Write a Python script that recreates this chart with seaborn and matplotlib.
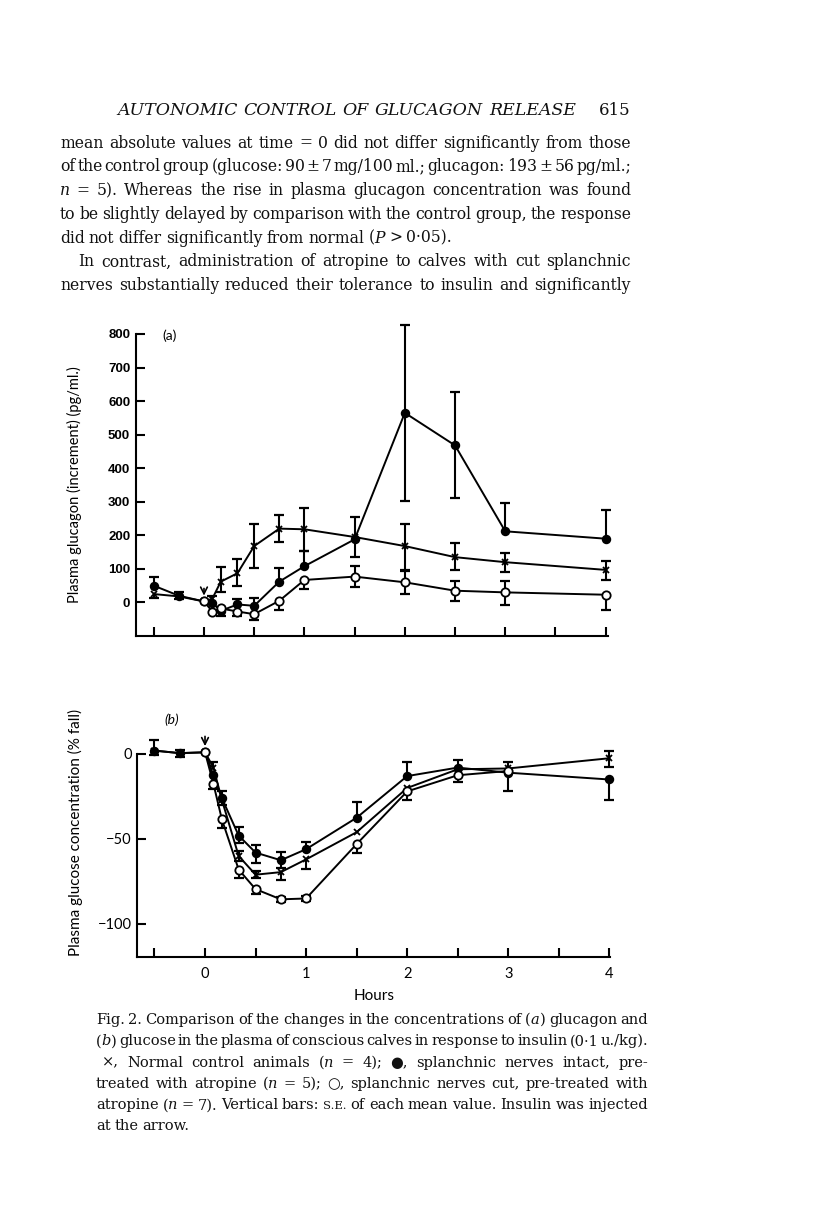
import matplotlib
matplotlib.use("Agg")
import matplotlib.pyplot as plt
import numpy as np
import seaborn as sns

# ── data ──────────────────────────────────────────────────────────────────────
HOURS = [-0.5, -0.25, 0, 0.083, 0.167, 0.333, 0.5, 0.75, 1, 1.5, 2, 2.5, 3, 4]
HOURS_OPEN_A = [0, 0.083, 0.167, 0.333, 0.5, 0.75, 1, 1.5, 2, 2.5, 3, 4]
HOURS_OPEN_B = [0, 0.083, 0.167, 0.333, 0.5, 0.75, 1, 1.5, 2, 2.5, 3]

# (a) glucagon increment, pg/ml
GLUCAGON_CONTROL = [25, 18, 3, 11, 62, 87, 168, 220, 218, 195, 168, 135, 120, 97]
GLUCAGON_CONTROL_LO = [12, 0, 0, 0, 32, 37, 66, 40, 66, 0, 71, 37, 28, 29]
GLUCAGON_CONTROL_HI = [0, 0, 0, 9, 45, 41, 67, 42, 64, 0, 65, 42, 27, 26]

GLUCAGON_INTACT = [50, 20, 3, -1, -25, -6, -10, 62, 108, 188, 565, 468, 212, 190]
GLUCAGON_INTACT_LO = [0, 10, 0, 0, 15, 0, 0, 0, 0, 53, 263, 158, 0, 0]
GLUCAGON_INTACT_HI = [25, 10, 0, 0, 12, 16, 23, 40, 44, 67, 263, 160, 83, 85]

GLUCAGON_CUT = [3, -27, -18, -27, -35, 5, 67, 77, 60, 35, 30, 23]
GLUCAGON_CUT_LO = [0, 0, 8, 12, 17, 28, 27, 32, 35, 30, 37, 47]
GLUCAGON_CUT_HI = [0, 0, 0, 0, 0, 0, 0, 31, 35, 28, 35, 0]

# (b) glucose, % fall
GLUCOSE_CONTROL = [2, 0.5, 1, -8, -27, -60, -71, -69.5, -62, -46, -20, -9, -8.5, -2.5]
GLUCOSE_CONTROL_LO = [0, 0, 0, 0, 0, 3, 2, 4.5, 5.5, 0, 0, 0, 0, 5]
GLUCOSE_CONTROL_HI = [0, 0, 0, 3, 0, 3, 2, 0, 0, 0, 0, 0, 4, 4.5]

GLUCOSE_INTACT = [2, 0.5, 1, -12.5, -26, -48, -58, -62.5, -56, -37.5, -13, -8, -11, -15]
GLUCOSE_INTACT_LO = [2.5, 2, 0, 0, 4, 4.5, 6, 4.5, 0, 0, 0, 0, 10.5, 12]
GLUCOSE_INTACT_HI = [6.5, 2, 0, 0, 4, 5, 4.5, 5, 4, 9.5, 8, 4.5, 0, 0]

GLUCOSE_CUT = [1, -17.5, -38.5, -68, -79.5, -85.5, -85, -53, -22, -12.5, -10]
GLUCOSE_CUT_LO = [0, 3, 5, 5, 3, 1.5, 1.5, 5.5, 5, 4, 0]
GLUCOSE_CUT_HI = [0, 0, 0, 0, 0, 1.5, 1.5, 0, 0, 0, 0]

X_TICKS = [-0.5, 0, 0.5, 1, 1.5, 2, 2.5, 3, 3.5, 4]
X_TICK_LABELS_B = ["", "0", "", "1", "", "2", "", "3", "", "4"]
Y_TICKS_A = [0, 100, 200, 300, 400, 500, 600, 700, 800]
Y_TICKS_B = [0, -50, -100]

HEADER = "AUTONOMIC CONTROL OF GLUCAGON RELEASE"
PAGE_NO = "615"
BODY = [
    "mean absolute values at time = 0 did not differ significantly from those",
    "of the control group (glucose: 90 ± 7 mg/100 ml.; glucagon: 193 ± 56 pg/ml.;",
    "*n = 5). Whereas the rise in plasma glucagon concentration was found",
    "to be slightly delayed by comparison with the control group, the response",
    "did not differ significantly from normal (~*P > 0·05).",
    "In contrast, administration of atropine to calves with cut splanchnic",
    "nerves substantially reduced their tolerance to insulin and significantly",
]
CAPTION = [
    "Fig. 2. Comparison of the changes in the concentrations of (~*a~) glucagon and",
    "(~*b~) glucose in the plasma of conscious calves in response to insulin (0·1 u./kg).",
    "×, Normal control animals (~*n = 4); ●, splanchnic nerves intact, pre-",
    "treated with atropine (~*n = 5); ○, splanchnic nerves cut, pre-treated with",
    "atropine (~*n = 7). Vertical bars: ^S.E. of each mean value. Insulin was injected",
    "at the arrow.",
]

W, H = 816, 1211
SERIF = ["DejaVu Serif", "DejaVu Sans"]
SANS = ["Lato", "DejaVu Sans"]

sns.set_theme(style="ticks")
plt.rcParams.update({
    "axes.linewidth": 1.5,
    "axes.spines.top": False,
    "axes.spines.right": False,
    "axes.edgecolor": "black",
    "figure.facecolor": "white",
    "axes.facecolor": "white",
})
plt.rcParams["font.family"] = SANS

fig = plt.figure(figsize=(W / 100, H / 100), dpi=100)
renderer = fig.canvas.get_renderer()


def make_words(line, baseline, size, italic=False):
    placed = []
    for word in line.split(" "):
        pieces = []
        for p in word.split("~"):
            style, fs = ("italic" if italic else "normal"), size
            if p.startswith("*"):
                style, p = "italic", p[1:]
            if p.startswith("^"):
                fs, p = size * 0.78, p[1:]
            t = fig.text(0, 1 - baseline / H, p, fontsize=fs, family=SERIF,
                         style=style, va="baseline", ha="left", color="#111")
            pieces.append((t, t.get_window_extent(renderer).width))
        placed.append(pieces)
    return placed


def fit_size(lines, x0s, x1, size, min_gap=0.5):
    """Largest size (<= size) at which every line fits with a minimum word gap."""
    best = size
    for line, x0 in zip(lines, x0s):
        placed = make_words(line, 0, size)
        total = sum(w for pieces in placed for _, w in pieces)
        space = size * 100 / 72 * 0.25
        need = total + (len(placed) - 1) * min_gap * space
        best = min(best, size * (x1 - x0) / need)
        for pieces in placed:
            for t, _ in pieces:
                t.remove()
    return best


def set_line(line, x0, x1, baseline, size, justify=True, italic=False):
    """Place a line of words, spreading them between x0 and x1 (pixels)."""
    placed = make_words(line, baseline, size, italic)
    total = sum(w for pieces in placed for _, w in pieces)
    space = size * 100 / 72 * 0.27
    n = len(placed) - 1
    gap = (x1 - x0 - total) / n if justify and n > 0 else space
    x = x0
    for pieces in placed:
        for t, w in pieces:
            t.set_x(x / W)
            x += w
        x += gap


# ── page text ─────────────────────────────────────────────────────────────────
set_line(HEADER, 117, 576, 115, 12.5, italic=True)
fig.text(631 / W, 1 - 115 / H, PAGE_NO, fontsize=12, family=SERIF,
         ha="right", va="baseline", color="#111")

body_x0 = [78 if i == 5 else 60 for i in range(len(BODY))]
body_size = fit_size([l for i, l in enumerate(BODY) if i != 4],
                     [x for i, x in enumerate(body_x0) if i != 4], 631, 13)
for i, line in enumerate(BODY):
    set_line(line, body_x0[i], 631, 147.5 + i * 23.8, body_size, justify=(i != 4))

cap_x0 = [102 if i == 2 else 96 for i in range(len(CAPTION))]
cap_size = fit_size(CAPTION[:5], cap_x0[:5], 648, 11.5)
for i, line in enumerate(CAPTION):
    set_line(line, cap_x0[i], 648, 1024 + i * 21.3, cap_size, justify=(i != 5))


# ── plotting helpers ──────────────────────────────────────────────────────────
def draw_series(ax, t, y, lo, hi, marker, face, size):
    t, y, lo, hi = map(np.asarray, (t, y, lo, hi))
    has = (lo > 0) | (hi > 0)
    ax.vlines(t[has], (y - lo)[has], (y + hi)[has], color="black", lw=1.5,
              zorder=2, clip_on=False)
    ax.plot(t[hi > 0], (y + hi)[hi > 0], ls="none", marker="_", ms=7.5, mew=1.6,
            color="black", zorder=2, clip_on=False)
    ax.plot(t[lo > 0], (y - lo)[lo > 0], ls="none", marker="_", ms=7.5, mew=1.6,
            color="black", zorder=2, clip_on=False)
    sns.lineplot(x=t, y=y, ax=ax, sort=False, estimator=None, color="black",
                 linewidth=1.4, marker=marker, markersize=size,
                 markerfacecolor=face, markeredgecolor="black",
                 markeredgewidth=1.3, zorder=3, clip_on=False)


def style_axes(ax):
    ax.tick_params(direction="in", length=6.5, width=1.5, pad=4, colors="black")
    ax.set_xticks(X_TICKS)
    for s in ("left", "bottom"):
        ax.spines[s].set_color("black")


# ── (a) glucagon ──────────────────────────────────────────────────────────────
ax_a = fig.add_axes([135.7 / W, 1 - 636 / H, 472 / W, 302 / H])
draw_series(ax_a, HOURS, GLUCAGON_CONTROL, GLUCAGON_CONTROL_LO, GLUCAGON_CONTROL_HI,
            "x", "black", 5)
draw_series(ax_a, HOURS, GLUCAGON_INTACT, GLUCAGON_INTACT_LO, GLUCAGON_INTACT_HI,
            "o", "black", 5.5)
draw_series(ax_a, HOURS_OPEN_A, GLUCAGON_CUT, GLUCAGON_CUT_LO, GLUCAGON_CUT_HI,
            "o", "white", 6)
ax_a.set_xlim(-0.68, 4.02)
ax_a.set_ylim(-100, 800)
style_axes(ax_a)
ax_a.set_yticks(Y_TICKS_A)
ax_a.set_yticklabels([str(v) for v in Y_TICKS_A], fontsize=9.5,
                     family=["Liberation Sans", "DejaVu Sans"], fontweight="bold")
ax_a.tick_params(labelbottom=False)
ax_a.set_ylabel("Plasma glucagon (increment) (pg/ml.)", fontsize=10.5, color="black")
ax_a.yaxis.set_label_coords(-54 / 472, 0.5)
ax_a.annotate("", xy=(0, 12), xytext=(0, 50),
              arrowprops=dict(arrowstyle="->", lw=1.2, color="black",
                              mutation_scale=12))
ax_a.text(-0.34, 794, "(a)", fontsize=10, ha="center", va="center", color="black")
ax_a.set_xlabel("")

# ── (b) glucose ───────────────────────────────────────────────────────────────
ax_b = fig.add_axes([137.3 / W, 1 - 957.3 / H, 473 / W, 230.5 / H])
draw_series(ax_b, HOURS, GLUCOSE_CONTROL, GLUCOSE_CONTROL_LO, GLUCOSE_CONTROL_HI,
            "x", "black", 5)
draw_series(ax_b, HOURS, GLUCOSE_INTACT, GLUCOSE_INTACT_LO, GLUCOSE_INTACT_HI,
            "o", "black", 5.5)
draw_series(ax_b, HOURS_OPEN_B, GLUCOSE_CUT, GLUCOSE_CUT_LO, GLUCOSE_CUT_HI,
            "o", "white", 6)
ax_b.set_xlim(-0.67, 4.01)
ax_b.set_ylim(-119.6, 16)
ax_b.spines["left"].set_bounds(-119.6, 0)
style_axes(ax_b)
ax_b.set_yticks(Y_TICKS_B)
ax_b.set_yticklabels(["0", "\u221250", "\u2212100"], fontsize=10.5)
ax_b.set_xticklabels(X_TICK_LABELS_B, fontsize=10.5)
ax_b.tick_params(axis="x", pad=7)
ax_b.set_ylabel("Plasma glucose concentration (% fall)", fontsize=11, color="black")
ax_b.yaxis.set_label_coords(-54 / 473, 0.54)
ax_b.set_xlabel("Hours", fontsize=11, color="black", labelpad=6)
ax_b.annotate("", xy=(0, 3), xytext=(0, 12),
              arrowprops=dict(arrowstyle="->", lw=1.2, color="black",
                              mutation_scale=12),
              annotation_clip=False)
ax_b.text(-0.33, 20, "(b)", fontsize=10, ha="center", va="center",
          style="italic", color="black")

fig.savefig("out.png", dpi=100)
